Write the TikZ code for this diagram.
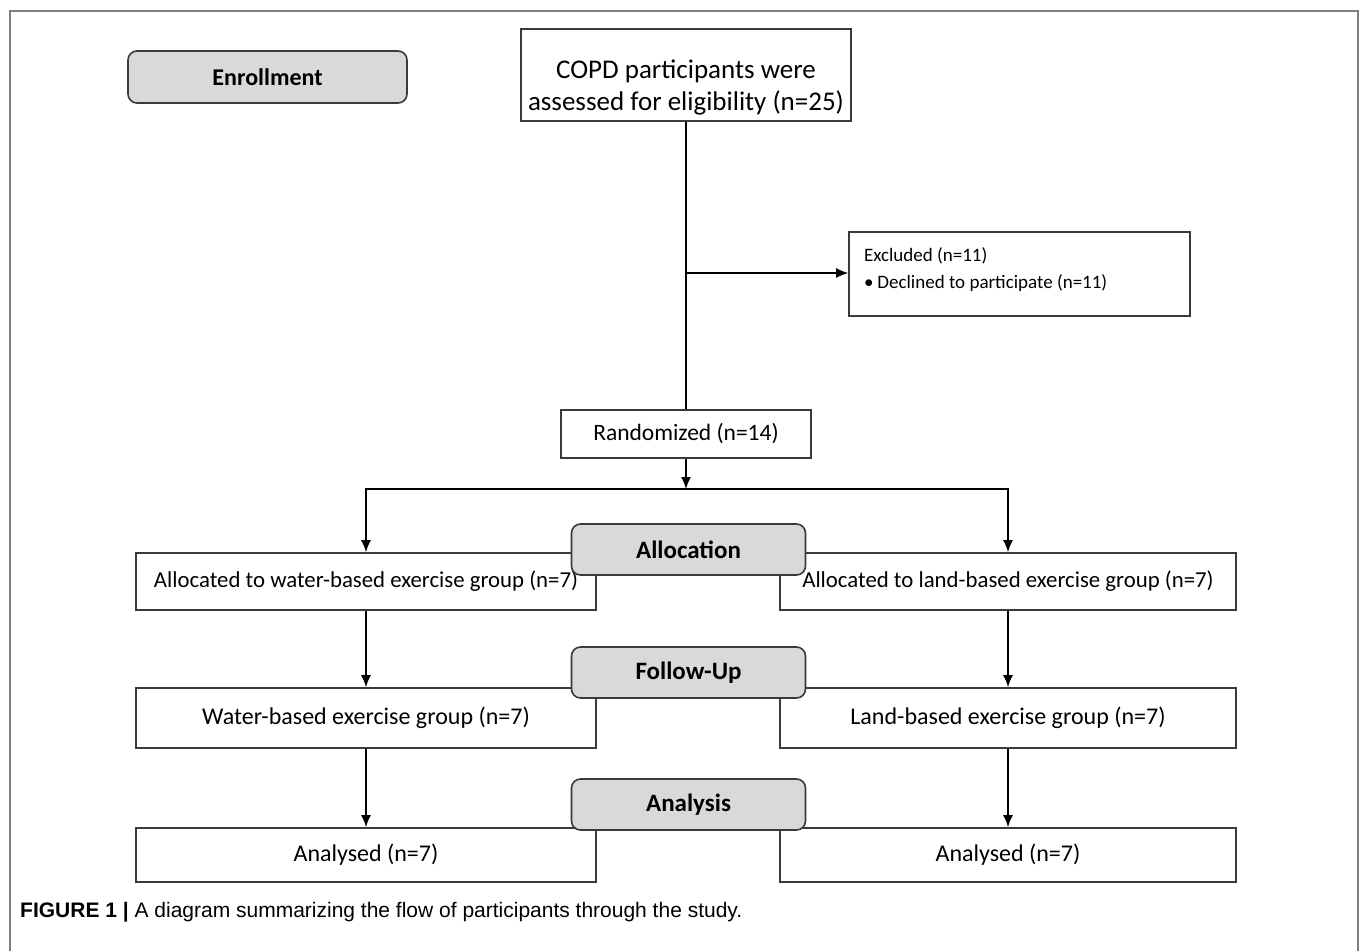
\documentclass[tikz,border=0pt]{standalone}
\usepackage{fontspec}
\setmainfont{Carlito}
\newfontfamily\capfont{Liberation Sans}
\usetikzlibrary{arrows.meta}
\definecolor{hdrgray}{HTML}{D9D9D9}
\definecolor{framegray}{HTML}{7F7F7F}
\definecolor{edgegray}{HTML}{3A3A3A}
\tikzset{
  flowbox/.style={draw=edgegray,line width=1.6pt,fill=white,inner sep=0pt,align=center,font=\fontsize{24}{30}\selectfont},
  stagebox/.style={draw=edgegray,line width=1.6pt,fill=hdrgray,rounded corners=9pt,inner sep=0pt,minimum width=234pt,minimum height=51pt,font=\fontsize{25}{30}\selectfont\bfseries},
  arr/.style={line width=1.6pt,-{Latex[length=12pt,width=10pt]}},
  ln/.style={line width=1.6pt}
}
\begin{document}
\begin{tikzpicture}[x=1pt,y=-1pt]
\useasboundingbox (0,0) rectangle (1360,951);
\draw[framegray,line width=2pt] (10,951) -- (10,11) -- (1358,11) -- (1358,951);

% enrollment
\node[stagebox,minimum width=279pt,minimum height=52pt,font=\fontsize{24}{28}\selectfont\bfseries] (enrol) at (267.5,77) {Enrollment};
\node[flowbox,minimum width=330pt,font=\fontsize{27}{32}\selectfont] (assess) at (686,75) {\rule{0pt}{49pt}COPD participants were\\assessed for eligibility (n=25)\rule[-11pt]{0pt}{11pt}};
\node[flowbox,minimum width=341pt,text width=311pt,align=flush left,font=\fontsize{19}{27}\selectfont] (excl) at (1019.5,274) {\rule{0pt}{29pt}Excluded (n=11)\\\textbullet\hspace{4pt}Declined to participate (n=11)\rule[-28pt]{0pt}{28pt}};
\node[flowbox,minimum width=250pt,minimum height=48pt,font=\fontsize{23.5}{28}\selectfont] (rand) at (686,434) {Randomized (n=14)};

% allocation
\node[flowbox,minimum width=460pt,minimum height=57pt,font=\fontsize{22.8}{26}\selectfont] (waterA) at (366,581.5) {Allocated to water-based exercise group (n=7)};
\node[flowbox,minimum width=456pt,minimum height=57pt,font=\fontsize{22.8}{26}\selectfont] (landA) at (1008,581.5) {Allocated to land-based exercise group (n=7)};
\node[stagebox] (alloc) at (688.5,549.5) {Allocation};

% follow-up
\node[flowbox,minimum width=460pt,minimum height=60pt] (waterF) at (366,718) {Water-based exercise group (n=7)};
\node[flowbox,minimum width=456pt,minimum height=60pt] (landF) at (1008,718) {Land-based exercise group (n=7)};
\node[stagebox] (follow) at (688.5,672.5) {Follow-Up};

% analysis
\node[flowbox,minimum width=460pt,minimum height=54pt] (waterN) at (366,855) {Analysed (n=7)};
\node[flowbox,minimum width=456pt,minimum height=54pt] (landN) at (1008,855) {Analysed (n=7)};
\node[stagebox] (analys) at (688.5,804.5) {Analysis};

\node[anchor=west,inner sep=0pt,font=\capfont\fontsize{21}{25}\selectfont] (caption) at (20,912) {\textbf{FIGURE 1 |} A diagram summarizing the flow of participants through the study.};

% connectors
\coordinate (exc) at (686,273);
\coordinate (split) at (686,489);
\draw[ln] (assess.south) -- (rand.north);
\draw[arr] (exc) -- (exc -| excl.west);
\draw[arr] (rand.south) -- (split);
\draw[arr] (split) -| (waterA.north);
\draw[arr] (split) -| (landA.north);
\draw[arr] (waterA.south) -- (waterF.north);
\draw[arr] (landA.south) -- (landF.north);
\draw[arr] (waterF.south) -- (waterN.north);
\draw[arr] (landF.south) -- (landN.north);
\end{tikzpicture}
\end{document}
